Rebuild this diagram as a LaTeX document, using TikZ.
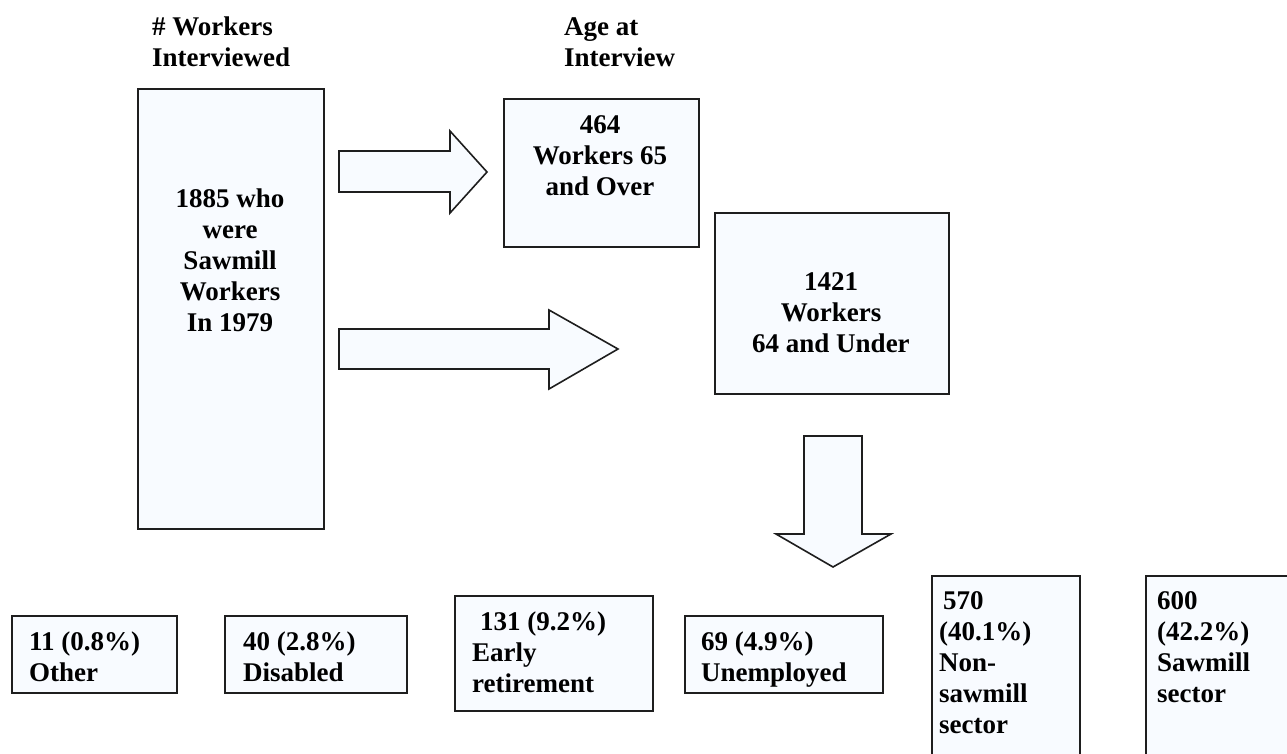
\documentclass[tikz,border=0pt]{standalone}
\usepackage{fontspec}
\setmainfont{Liberation Serif}[BoldFont={Liberation Serif Bold}]
\definecolor{boxfill}{RGB}{248,251,255}
\definecolor{edge}{RGB}{30,30,30}
\begin{document}
\begin{tikzpicture}[x=1pt,y=-1pt,
  box/.style={draw=edge, fill=boxfill, line width=1.8pt, rectangle, inner sep=0pt, anchor=north west},
  blockarrow/.style={draw=edge, fill=boxfill, line width=1.6pt, line join=miter},
  txt/.style={font=\fontsize{27}{31}\selectfont\bfseries, inner sep=0pt, text=black},
  ltxt/.style={txt, align=left, anchor=north west},
  ctxt/.style={txt, align=center, anchor=north}]
\useasboundingbox (0,0) rectangle (1287,754);
\clip (0,0) rectangle (1287,754);

% headers
\node[ltxt] (hdrA) at (152,17) {\# Workers\\Interviewed};
\node[ltxt] (hdrB) at (564,17) {Age at\\Interview};

% main boxes
\node[box, minimum width=186pt, minimum height=440pt] (src) at (137,88) {};
\node[ctxt] (srct) at (230,189) {1885 who\\were\\Sawmill\\Workers\\In 1979};

\node[box, minimum width=195pt, minimum height=148pt] (old) at (503,98) {};
\node[ctxt] (oldt) at (600,115) {464\\Workers 65\\and Over};

\node[box, minimum width=234pt, minimum height=181pt] (young) at (714,212) {};
\node[ctxt] (youngt) at (831,272) {1421\\Workers\\64 and Under};

% block arrows
\draw[blockarrow] (339,151) -- (450,151) -- (450,131) -- (487,172) -- (450,213) -- (450,192) -- (339,192) -- cycle;
\draw[blockarrow] (339,329) -- (549,329) -- (549,310) -- (618,349) -- (549,389) -- (549,369) -- (339,369) -- cycle;
\draw[blockarrow] (804,436) -- (862,436) -- (862,534) -- (891,534) -- (833,567) -- (776,534) -- (804,534) -- cycle;

% outcome boxes
\node[box, minimum width=165pt, minimum height=77pt] (other) at (11,615) {};
\node[ltxt] (othert) at (29,632) {11 (0.8\%)\\Other};

\node[box, minimum width=182pt, minimum height=77pt] (dis) at (224,615) {};
\node[ltxt] (dist) at (243,632) {40 (2.8\%)\\Disabled};

\node[box, minimum width=198pt, minimum height=115pt] (early) at (454,595) {};
\node[ltxt] (earlyt) at (472,612) {\hspace*{8pt}131 (9.2\%)\\Early\\retirement};

\node[box, minimum width=198pt, minimum height=77pt] (unemp) at (684,615) {};
\node[ltxt] (unempt) at (701,632) {69 (4.9\%)\\Unemployed};

\node[box, minimum width=148pt, minimum height=200pt] (non) at (931,575) {};
\node[ltxt] (nont) at (939,591) {\hspace*{4pt}570\\(40.1\%)\\Non-\\sawmill\\sector};

\node[box, minimum width=160pt, minimum height=200pt] (saw) at (1145,575) {};
\node[ltxt] (sawt) at (1157,591) {600\\(42.2\%)\\Sawmill\\sector};
\end{tikzpicture}
\end{document}
